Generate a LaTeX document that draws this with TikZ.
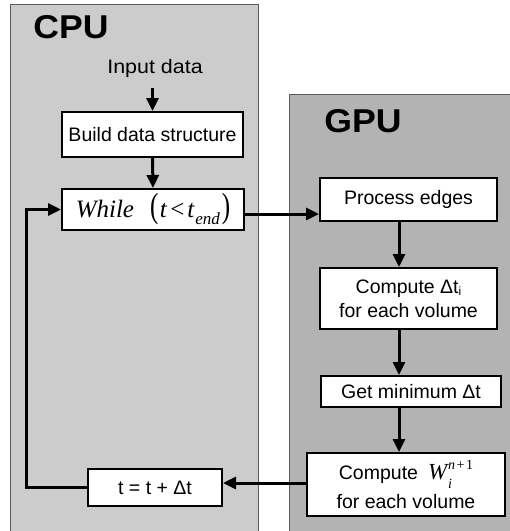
\documentclass[tikz,border=0pt]{standalone}
\usepackage{fontspec}
\setmainfont{Liberation Sans}
\newfontfamily\serifit{Liberation Serif}
\usetikzlibrary{arrows.meta}
\definecolor{cpugray}{HTML}{CCCCCC}
\definecolor{gpugray}{HTML}{B3B3B3}
\definecolor{edgegray}{HTML}{5A5A5A}
\tikzset{
  panel/.style={draw=edgegray, line width=0.9pt},
  flowbox/.style={draw=black, fill=white, line width=2pt, inner sep=0pt, align=center,
    font=\fontsize{19.5}{24}\selectfont},
  arr/.style={line width=3pt, -{Triangle[length=13pt,width=12pt]}},
  title/.style={font=\fontsize{33}{36}\selectfont\bfseries, inner sep=0pt}
}
\begin{document}
\begin{tikzpicture}[x=1pt,y=-1pt]
\useasboundingbox (0,0) rectangle (510,531);
\clip (0,0) rectangle (510,531);
% panels
\draw[panel, fill=cpugray] (10,4) rectangle (258,540);
\draw[panel, fill=gpugray] (289,94) rectangle (520,540);
\node[title, xscale=1.08, transform shape] (cpu) at (71,27) {CPU};
\node[title, xscale=1.08, transform shape] (gpu) at (363,121) {GPU};
% CPU nodes
\node[inner sep=0pt, font=\fontsize{19.5}{23}\selectfont, xscale=1.1, transform shape] (input) at (155,68) {Input data};
\node[flowbox, minimum width=181pt, minimum height=45pt] (build) at (152.5,134.5) {Build data structure};
\node[flowbox, minimum width=182pt, minimum height=41pt] (while) at (153,209.5)
  {\serifit\fontsize{25}{28}\selectfont\itshape While\hspace{16pt}\upshape\scalebox{1}[1.4]{(}\kern1.5pt\itshape t\kern3.5pt\upshape<\kern3pt\itshape t\kern1pt\raisebox{-0.6ex}{\fontsize{17}{17}\selectfont end}\kern2pt\upshape\scalebox{1}[1.4]{)}};
\node[flowbox, minimum width=134pt, minimum height=37pt] (tbox) at (155,487.5) {t = t + Δt};
% GPU nodes
\node[flowbox, minimum width=177pt, minimum height=43pt] (proc) at (408.5,199.5) {Process edges};
\node[flowbox, minimum width=177pt, minimum height=61pt] (comp) at (408.5,298.5)
  {Compute Δt\raisebox{-0.2ex}{\fontsize{12}{12}\selectfont i}\\for each volume};
\node[flowbox, minimum width=180pt, minimum height=31pt] (getmin) at (411,391.5) {Get minimum Δt};
\node[flowbox, minimum width=198pt, minimum height=63pt, font=\fontsize{19.5}{29}\selectfont] (compW) at (406,484.5)
  {Compute\kern10pt{\serifit\fontsize{23}{23}\selectfont\itshape W\kern1pt\rlap{\raisebox{-0.8ex}{\fontsize{14}{14}\selectfont i}}\raisebox{1.0ex}{\fontsize{14}{14}\selectfont n\upshape\kern1.5pt+\kern1.5pt1}}\\for each volume};
% connectors
\coordinate (gx) at (399,0);
\coordinate (lx) at (26,0);
\draw[arr] ([yshift=-11pt]input.south -| build.north) -- (build.north);
\draw[arr] (build.south) -- (while.north);
\draw[arr] ([yshift=-4.5pt]while.east) -- ([yshift=-4.5pt]while.east -| proc.west);
\draw[arr] (proc.south -| gx) -- (comp.north -| gx);
\draw[arr] (comp.south -| gx) -- (getmin.north -| gx);
\draw[arr] (getmin.south -| gx) -- (compW.north -| gx);
\draw[arr] ([yshift=1.5pt]compW.west) -- ([yshift=1.5pt]compW.west -| tbox.east);
\draw[arr] (tbox.west) -- (tbox.west -| lx) |- (while.west);
\end{tikzpicture}
\end{document}
